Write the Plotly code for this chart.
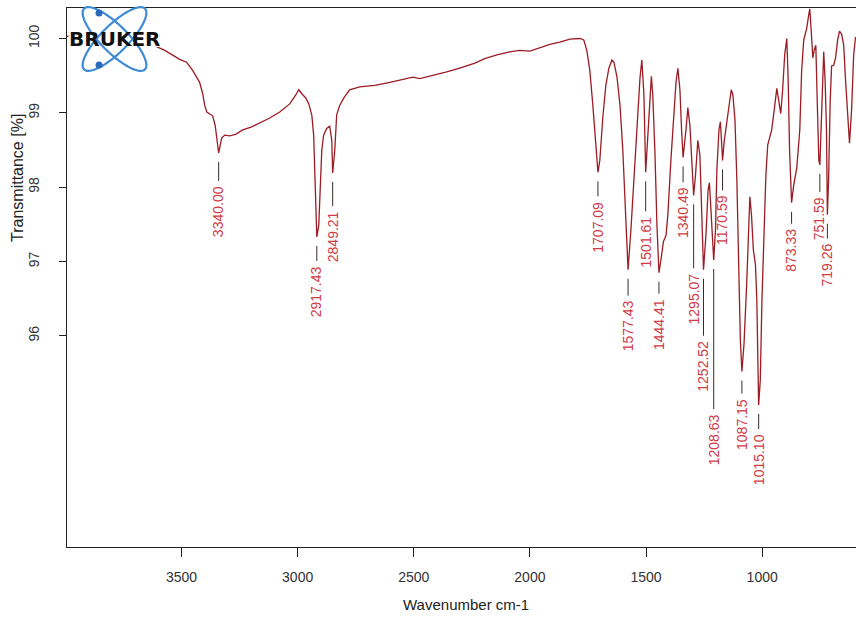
import numpy as np
import plotly.graph_objects as go

# ---------------- data ----------------
wavenumber = [3993, 3900, 3800, 3700, 3637, 3607, 3572, 3538, 3508, 3478, 3452, 3435, 3422, 3409,
              3400, 3391, 3379, 3366, 3355, 3348, 3340, 3333, 3327, 3314, 3292, 3267, 3236, 3198,
              3163, 3120, 3077, 3034, 3008, 2995, 2983, 2965, 2952, 2939, 2931, 2922, 2917.43, 2909,
              2903, 2896, 2888, 2875, 2862, 2853, 2849.21, 2840, 2832, 2819, 2801, 2776, 2733, 2668,
              2603, 2560, 2504, 2474, 2431, 2388, 2358, 2302, 2237, 2194, 2142, 2087, 2044, 2000,
              1957, 1914, 1871, 1828, 1785, 1768, 1755, 1742, 1729, 1716, 1707.09, 1699, 1686, 1673,
              1660, 1647, 1638, 1625, 1612, 1600, 1587, 1577.43, 1565, 1552, 1539, 1526, 1518, 1509,
              1501.61, 1492, 1481, 1477, 1471, 1462, 1453, 1444.41, 1436, 1425, 1414, 1406, 1393,
              1380, 1371, 1363, 1354, 1347, 1340.49, 1328, 1320, 1311, 1302, 1295.07, 1287, 1277,
              1268, 1259, 1252.52, 1242, 1233, 1227, 1221, 1212, 1208.63, 1201, 1195, 1186, 1180,
              1174, 1170.59, 1163, 1154, 1143, 1133, 1126, 1117, 1109, 1100, 1094, 1087.15, 1078,
              1066, 1057, 1053, 1046, 1038, 1029, 1023, 1015.10, 1008, 1001, 993, 984, 976, 967, 959,
              948, 937, 929, 920, 912, 903, 894, 888, 882, 873.33, 864, 851, 838, 830, 821, 808, 800,
              795, 789, 782, 776, 769, 763, 756, 751.59, 746, 739, 735, 729, 723, 719.26, 714, 707,
              701, 692, 684, 675, 667, 658, 649, 641, 632, 624, 615, 606, 598]

transmittance = [100.03, 100.02, 100.01, 99.99, 99.96, 99.89, 99.84, 99.78, 99.72, 99.68, 99.57, 99.48,
                 99.41, 99.26, 99.10, 99.01, 98.98, 98.96, 98.83, 98.63, 98.46, 98.57, 98.66, 98.70,
                 98.69, 98.71, 98.77, 98.81, 98.86, 98.93, 99.01, 99.12, 99.24, 99.31, 99.26, 99.20,
                 99.12, 98.97, 98.70, 97.96, 97.33, 97.49, 97.96, 98.50, 98.70, 98.79, 98.82, 98.63,
                 98.19, 98.50, 98.97, 99.10, 99.20, 99.31, 99.35, 99.37, 99.41, 99.44, 99.48, 99.46,
                 99.49, 99.52, 99.55, 99.60, 99.67, 99.73, 99.78, 99.82, 99.84, 99.83, 99.88, 99.92,
                 99.95, 99.99, 100.00, 99.98, 99.84, 99.57, 99.10, 98.50, 98.20, 98.36, 98.94, 99.37,
                 99.60, 99.71, 99.68, 99.48, 99.10, 98.50, 97.56, 96.89, 97.43, 98.16, 98.90, 99.47,
                 99.71, 99.24, 98.20, 98.77, 99.44, 99.49, 99.24, 98.50, 97.49, 96.85, 97.02, 97.27,
                 97.35, 97.63, 98.36, 99.03, 99.41, 99.60, 99.31, 98.77, 98.40, 98.77, 99.07, 98.83,
                 98.23, 97.89, 98.16, 98.63, 98.43, 97.56, 96.89, 97.36, 97.96, 98.06, 97.76, 97.22,
                 97.02, 97.42, 98.23, 98.77, 98.88, 98.57, 98.36, 98.63, 98.82, 99.04, 99.31, 99.24,
                 98.90, 98.10, 96.89, 95.95, 95.52, 95.90, 96.75, 97.69, 97.87, 97.63, 97.16, 96.96,
                 96.48, 95.07, 95.41, 96.48, 97.42, 98.16, 98.57, 98.66, 98.77, 99.04, 99.33, 99.17,
                 98.99, 99.30, 99.78, 100.00, 99.44, 98.50, 97.79, 98.03, 98.26, 98.77, 99.57, 99.98,
                 100.14, 100.31, 100.40, 100.11, 99.74, 99.84, 99.91, 99.17, 98.36, 98.30, 98.90,
                 99.71, 99.82, 99.44, 98.77, 97.63, 98.10, 99.17, 99.63, 99.64, 99.74, 99.98, 100.10,
                 100.06, 99.91, 99.44, 98.90, 98.59, 99.04, 99.78, 100.02]

peak_labels = ["3340.00", "2917.43", "2849.21", "1707.09", "1577.43", "1501.61", "1444.41",
               "1340.49", "1295.07", "1252.52", "1208.63", "1170.59", "1087.15", "1015.10",
               "873.33", "751.59", "719.26"]
peak_wavenumbers = [3340.00, 2917.43, 2849.21, 1707.09, 1577.43, 1501.61, 1444.41,
                    1340.49, 1295.07, 1252.52, 1208.63, 1170.59, 1087.15, 1015.10,
                    873.33, 751.59, 719.26]

x_ticks = [3500, 3000, 2500, 2000, 1500, 1000]
y_ticks = [96, 97, 98, 99, 100]

# ---------------- layout-only settings ----------------
label_drop_px = [32, 28, 37, 28, 30, 43, 25, 29, 77, 70, 153, 34, 26, 28, 25, 31, 28]
LINE_RED = "#9b1c24"
LABEL_RED = "#d03a44"
FONT = "Liberation Sans, Arial, Helvetica, sans-serif"

fig = go.Figure()
fig.add_trace(go.Scatter(x=wavenumber, y=transmittance, mode="lines",
                         line=dict(color=LINE_RED, width=1.3),
                         hoverinfo="skip", showlegend=False))

wn_arr = np.array(wavenumber, dtype=float)
t_arr = np.array(transmittance, dtype=float)
order = np.argsort(wn_arr)
peak_T = np.interp(peak_wavenumbers, wn_arr[order], t_arr[order])

for lab, wn, T, drop in zip(peak_labels, peak_wavenumbers, peak_T, label_drop_px):
    fig.add_shape(type="line", xref="x", yref="y", ysizemode="pixel", yanchor=float(T),
                  x0=wn, x1=wn, y0=-9, y1=-(drop - 4),
                  line=dict(color="#3a2a2a", width=1), layer="above")
    fig.add_annotation(x=wn, y=float(T), xref="x", yref="y", text=lab, showarrow=False,
                       textangle=-90, xanchor="center", yanchor="top", yshift=-drop,
                       borderpad=0,
                       font=dict(family=FONT, size=14, color=LABEL_RED))

# ---------------- Bruker logo (decoration) ----------------
PW, PH, L, T0 = 789.0, 539.0, 67.0, 8.0
def px_to_paper(px, py):
    return (px - L) / PW, 1 - (py - T0) / PH

def ellipse_path(a, b, theta_deg, n=90):
    t = np.linspace(0, 2 * np.pi, n)
    th = np.radians(theta_deg)
    xs = a * np.cos(t) * np.cos(th) - b * np.sin(t) * np.sin(th)
    ys = a * np.cos(t) * np.sin(th) + b * np.sin(t) * np.cos(th)
    return "M " + " L ".join(f"{x:.2f},{y:.2f}" for x, y in zip(xs, ys)) + " Z"

cx, cy = px_to_paper(114.5, 39)
# white band hiding the curve behind the word
bx0, by0 = px_to_paper(68.5, 32)
bx1, by1 = px_to_paper(160, 47)
fig.add_shape(type="rect", xref="paper", yref="paper", x0=bx0, x1=bx1, y0=by1, y1=by0,
              fillcolor="white", line=dict(width=0), layer="above")
for ang in (45, -45):
    fig.add_shape(type="path", xref="paper", yref="paper", xsizemode="pixel", ysizemode="pixel",
                  xanchor=cx, yanchor=cy, path=ellipse_path(43, 13.5, ang),
                  line=dict(color="#3d8ad6", width=2.2), layer="above")
for dy in (26, -26):
    fig.add_shape(type="circle", xref="paper", yref="paper", xsizemode="pixel", ysizemode="pixel",
                  xanchor=cx, yanchor=cy, x0=-19, x1=-12, y0=dy - 3.5, y1=dy + 3.5,
                  fillcolor="#2a6ab8", line=dict(width=0), layer="above")
tx, ty = px_to_paper(114, 39.5)
fig.add_annotation(x=tx, y=ty, xref="paper", yref="paper", text="<b>BRUKER</b>", showarrow=False,
                   xanchor="center", yanchor="middle",
                   font=dict(family="DejaVu Sans, sans-serif", size=20, color="#111"))

# ---------------- axis titles ----------------
ax_, ay_ = px_to_paper(466, 604)
fig.add_annotation(x=ax_, y=ay_, xref="paper", yref="paper", text="Wavenumber cm-1",
                   showarrow=False, xanchor="center", yanchor="middle",
                   font=dict(family=FONT, size=15, color="#222"))
yx_, yy_ = px_to_paper(18, 178)
fig.add_annotation(x=yx_, y=yy_, xref="paper", yref="paper", text="Transmittance [%]",
                   showarrow=False, textangle=-90, xanchor="center", yanchor="middle",
                   font=dict(family=FONT, size=16, color="#222"))

fig.update_layout(
    width=856, height=619,
    margin=dict(l=67, r=0, t=8, b=72),
    paper_bgcolor="white", plot_bgcolor="white",
    showlegend=False,
    xaxis=dict(range=[3993, 596], tickvals=x_ticks, ticktext=[str(v) for v in x_ticks],
               ticks="outside", ticklen=9, tickcolor="#222", tickwidth=1,
               showline=True, linecolor="#222", linewidth=1.3, mirror=True,
               showgrid=False, zeroline=False, ticklabelstandoff=8,
               tickfont=dict(family=FONT, size=14, color="#333")),
    yaxis=dict(range=[93.16, 100.41], tickvals=y_ticks, ticktext=[str(v) for v in y_ticks],
               ticks="outside", ticklen=7, tickcolor="#222", tickwidth=1, tickangle=-90,
               showline=True, linecolor="#222", linewidth=1.3, mirror=False,
               showgrid=False, zeroline=False, ticklabelstandoff=14,
               tickfont=dict(family=FONT, size=14, color="#333")),
)

fig.write_html("out.html")
